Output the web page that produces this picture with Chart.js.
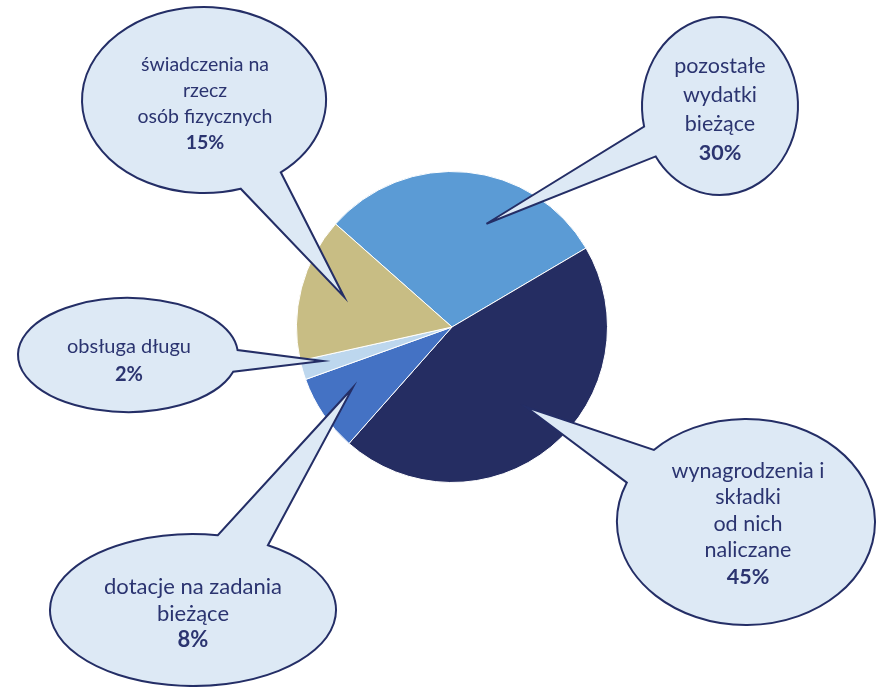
<!DOCTYPE html>
<html>
<head>
<meta charset="utf-8">
<script src="https://cdn.jsdelivr.net/npm/chart.js@4/dist/chart.umd.min.js"></script>
<style>
  html, body { margin: 0; padding: 0; background: #fff; }
  #wrap { width: 876px; height: 687px; }
</style>
</head>
<body>
<div id="wrap"><canvas id="expenses" width="876" height="687"></canvas></div>
<script>
// slices, clockwise from the light blue one
const categories = [
  ['pozostałe', 'wydatki', 'bieżące'],
  ['wynagrodzenia i', 'składki', 'od nich', 'naliczane'],
  ['dotacje na zadania', 'bieżące'],
  ['obsługa długu'],
  ['świadczenia na', 'rzecz', 'osób fizycznych']
];
const shares = [30, 45, 8, 2, 15];
const sliceColors = ['#5b9bd5', '#252d62', '#4472c4', '#bdd7ee', '#c8bd84'];

// balloon layout: ellipse, where the tail leaves it (deg), where the tail tip sits in the slice
const balloons = [
  { cx: 720, cy: 106, rx: 78, ry: 89, gap: [145.5, 166.6], at: 0.62, depth: 0.70, tx: 720, ty: 66, step: 29, size: 21.5 },
  { cx: 746, cy: 522, rx: 129, ry: 103, gap: [202.5, 224.4], at: 0.48, depth: 0.70, tx: 748, ty: 471, step: 26.5, size: 21.5 },
  { cx: 193, cy: 610, rx: 143, ry: 76, gap: [-80, -58.4], at: 0.59, depth: 0.75, tx: 193, ty: 587, step: 26.5, size: 22 },
  { cx: 128, cy: 355, rx: 110, ry: 57, gap: [-5, 17], at: 0.69, depth: 0.86, tx: 129, ty: 347, step: 28, size: 20 },
  { cx: 204, cy: 100, rx: 122, ry: 93, gap: [51, 72.5], at: 0.52, depth: 0.72, tx: 205, ty: 65, step: 26, size: 19.5 }
];

const balloonPlugin = {
  id: 'balloons',
  afterDatasetsDraw(chart) {
    const ctx = chart.ctx;
    const arcs = chart.getDatasetMeta(0).data;
    arcs.forEach((arc, i) => {
      const b = balloons[i];
      const p = arc.getProps(['x', 'y', 'startAngle', 'endAngle', 'outerRadius'], true);
      const a = p.startAngle + b.at * (p.endAngle - p.startAngle);
      const tipX = p.x + Math.cos(a) * p.outerRadius * b.depth;
      const tipY = p.y + Math.sin(a) * p.outerRadius * b.depth;
      const g0 = b.gap[0] * Math.PI / 180, g1 = b.gap[1] * Math.PI / 180;

      ctx.save();
      ctx.beginPath();
      ctx.ellipse(b.cx, b.cy, b.rx, b.ry, 0, g1, g0 + 2 * Math.PI);
      ctx.lineTo(tipX, tipY);
      ctx.closePath();
      ctx.fillStyle = '#dde9f5';
      ctx.fill();
      ctx.lineWidth = 2;
      ctx.lineJoin = 'miter';
      ctx.strokeStyle = '#242e66';
      ctx.stroke();

      ctx.fillStyle = '#2b3470';
      ctx.textAlign = 'center';
      ctx.textBaseline = 'middle';
      const lines = categories[i];
      ctx.font = b.size + 'px Lato';
      lines.forEach((t, k) => ctx.fillText(t, b.tx, b.ty + k * b.step));
      ctx.font = 'bold ' + b.size + 'px Lato';
      ctx.fillText(shares[i] + '%', b.tx, b.ty + lines.length * b.step);
      ctx.restore();
    });
  }
};

new Chart(document.getElementById('expenses'), {
  type: 'pie',
  data: {
    labels: categories.map(c => c.join(' ')),
    datasets: [{
      data: shares,
      backgroundColor: sliceColors,
      borderColor: '#ffffff',
      borderWidth: 1
    }]
  },
  options: {
    responsive: false,
    animation: false,
    rotation: -48.5,
    layout: { padding: { left: 296, right: 268, top: 171, bottom: 204 } },
    plugins: {
      legend: { display: false },
      tooltip: { enabled: false }
    }
  },
  plugins: [balloonPlugin]
});
</script>
</body>
</html>
